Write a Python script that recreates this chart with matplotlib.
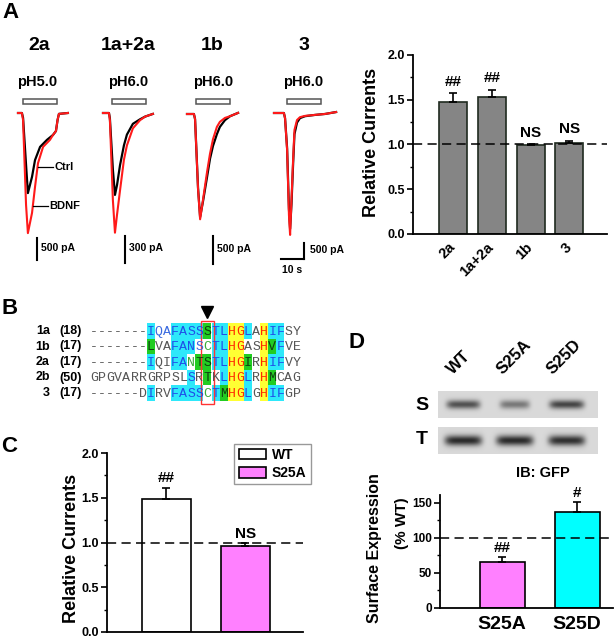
import numpy as np
import matplotlib
matplotlib.use('Agg')
import matplotlib.pyplot as plt
from matplotlib.patches import Rectangle
from matplotlib.ticker import MultipleLocator
import matplotlib.transforms as mtransforms

plt.rcParams['font.family'] = ['Liberation Sans', 'DejaVu Sans']
plt.rcParams['font.weight'] = 'bold'

# ---------------- data ----------------
# panel A traces: time (s), current (nA)
t_2a_ctrl = [0, 1.7, 2.2, 3.5, 4.3, 6.1, 7.4, 9.6, 12.6, 15.2, 16.5, 17.2, 17.8, 21.7]
i_2a_ctrl = [0, 0, -0.11, -1.18, -1.82, -1.45, -1.07, -0.77, -0.61, -0.50, -0.41, -0.16, -0.02, 0]
t_2a_bdnf = [0, 1.7, 2.2, 3.5, 4.3, 6.1, 7.4, 8.7, 10.9, 13.9, 15.2, 16.5, 17.2, 17.8, 21.7]
i_2a_bdnf = [0, 0, -0.16, -2.09, -2.73, -2.27, -1.68, -1.14, -0.77, -0.61, -0.50, -0.41, -0.16, -0.02, 0]

t_12a = [0, 2.6, 3.0, 4.3, 5.2, 6.1, 7.4, 9.1, 10.4, 13.0, 16.1, 18.3, 21.7]
i_12a_ctrl = [0, 0, -0.06, -0.63, -0.91, -0.80, -0.58, -0.36, -0.24, -0.12, -0.07, -0.04, -0.01]
i_12a_bdnf = [0, 0, -0.08, -0.97, -1.33, -1.13, -0.86, -0.52, -0.36, -0.17, -0.08, -0.04, -0.01]

t_1b = [0, 3.0, 3.5, 4.8, 5.7, 7.0, 8.7, 10.0, 11.3, 13.0, 14.3, 16.5, 18.7, 22.2]
i_1b_ctrl = [0, 0, -0.09, -1.32, -1.84, -1.55, -1.13, -0.80, -0.57, -0.36, -0.23, -0.11, -0.04, 0.02]
i_1b_bdnf = [0, 0, -0.09, -1.34, -1.88, -1.52, -1.04, -0.71, -0.45, -0.23, -0.14, -0.07, -0.04, 0.02]

t_3 = [0, 4.3, 4.8, 5.7, 6.5, 7.0, 7.6, 8.3, 8.9, 10.0, 11.3, 13.5, 17.8, 22.2, 27.0]
i_3_ctrl = [0, 0, -0.16, -1.10, -3.00, -3.62, -2.85, -1.60, -0.66, -0.30, -0.16, -0.10, -0.06, -0.03, 0.03]
i_3_bdnf = [0, 0, -0.16, -1.16, -3.19, -3.81, -2.72, -1.47, -0.53, -0.22, -0.13, -0.09, -0.06, -0.03, 0.03]

trace_names = ['2a', '1a+2a', '1b', '3']
trace_ph = ['pH5.0', 'pH6.0', 'pH6.0', 'pH6.0']
stim_on = [2.2, 3.9, 3.9, 5.7]
stim_dur = 14.8
scale_nA = [0.5, 0.3, 0.5, 0.5]
scale_lbl = ['500 pA', '300 pA', '500 pA', '500 pA']

# panel A bar chart
rel_groups = ['2a', '1a+2a', '1b', '3']
rel_vals = [1.48, 1.53, 0.99, 1.02]
rel_err = [0.09, 0.08, 0.01, 0.02]
rel_sig = ['##', '##', 'NS', 'NS']

# panel B alignment
aln_names = ['1a', '1b', '2a', '2b', '3']
aln_nums = ['(18)', '(17)', '(17)', '(50)', '(17)']
aln_seqs = ['-------IQAFASSSTLHGLAHIFSY',
            '-------LVAFANSCTLHGASHVFVE',
            '-------IQIFANTSTLHGIRHIFVY',
            'GPGVARRGRPSLSRTKLHGLRHMCAG',
            '------DIRVFASSCTMHGLGHIFGP']
aln_codes = ['nnnnnnnCbbCCCCGCCYYCnYCCnn',
             'nnnnnnnGnnCCCbgCCYYnnYGCnn',
             'nnnnnnnCnnCCgGGCCYYGnYCCnn',
             'nnnnnnnnnnnnCnGnCYYCnYGnnn',
             'nnnnnnnCnnCCCCgCGYYCnYCCnn']
site_col = 14

# panel C
c_groups = ['WT', 'S25A']
c_vals = [1.49, 0.96]
c_err = [0.12, 0.03]
c_sig = ['##', 'NS']

# panel D
d_lanes = ['WT', 'S25A', 'S25D']
band_surface = [0.78, 0.55, 0.85]
band_total = [1.0, 1.0, 0.97]
d_groups = ['S25A', 'S25D']
d_vals = [66, 137]
d_err = [7, 14]
d_sig = ['##', '#']

# ---------------- figure ----------------
W, H = 615.0, 639.0
fig = plt.figure(figsize=(W / 100, H / 100), dpi=100)


def box(x0, y0, x1, y1):
    return [x0 / W, 1 - y1 / H, (x1 - x0) / W, (y1 - y0) / H]


def put(x, y, s, **kw):
    kw.setdefault('ha', 'center')
    kw.setdefault('va', 'center')
    fig.text(x / W, 1 - y / H, s, **kw)


def style_bars(ax):
    for side in ['top', 'right']:
        ax.spines[side].set_visible(False)
    for side in ['left', 'bottom']:
        ax.spines[side].set_linewidth(1.3)
    ax.tick_params(axis='y', which='major', direction='out', length=4, width=1.2, labelsize=9, pad=2)
    ax.tick_params(axis='y', which='minor', direction='out', length=2.5, width=1)
    ax.tick_params(axis='x', length=0)


# panel letters
put(10, 12, 'A', fontsize=16)
put(10, 309, 'B', fontsize=16)
put(9, 447, 'C', fontsize=16)
put(356, 343, 'D', fontsize=16)

# ---- A: traces ----
traces = [(t_2a_ctrl, i_2a_ctrl, t_2a_bdnf, i_2a_bdnf),
          (t_12a, i_12a_ctrl, t_12a, i_12a_bdnf),
          (t_1b, i_1b_ctrl, t_1b, i_1b_bdnf),
          (t_3, i_3_ctrl, t_3, i_3_bdnf)]
x0_px = [18, 103, 187, 274]
base_px = [113, 113, 114, 113]
px_per_nA = [44, 90, 56, 32]
px_per_s = 2.3
title_x = [39, 128, 212, 304]
ph_x = [37, 128, 213, 303]
bar_t = [8.3, 9.6, 11.3, 13.0]
bar_top_px = [238, 236, 236, 243]

for k in range(4):
    top, bot = 92, 292
    left = x0_px[k] - 2 * px_per_s
    ax = fig.add_axes(box(left, top, left + 40 * px_per_s, bot))
    s = px_per_nA[k]
    ax.set_xlim(-2, 38)
    ax.set_ylim(-(bot - base_px[k]) / s, (base_px[k] - top) / s)
    ax.axis('off')
    tc, ic, tb, ib = traces[k]
    ax.plot(tc, ic, color='black', lw=1.6, solid_joinstyle='round')
    ax.plot(tb, ib, color='#FF1A1A', lw=1.5, solid_joinstyle='round')
    # stimulus bar
    tr = mtransforms.blended_transform_factory(ax.transData, ax.transAxes)
    ax.add_patch(Rectangle((stim_on[k], (bot - 104) / (bot - top)), stim_dur, 5 / (bot - top),
                           transform=tr, fill=False, edgecolor='#555555', lw=1.1))
    # scale bar
    ytop = -(bar_top_px[k] - base_px[k]) / s
    ybot = ytop - scale_nA[k]
    ax.plot([bar_t[k], bar_t[k]], [ytop, ybot], color='black', lw=1.5)
    if k == 3:
        ax.plot([bar_t[k] - 10, bar_t[k]], [ybot, ybot], color='black', lw=1.5)
        ax.text(bar_t[k] - 5, ybot - 6 / s, '10 s', ha='center', va='top', fontsize=7.5)
        ax.text(bar_t[k] + 2.6, (ytop + ybot) / 2 + 1 / s, scale_lbl[k], ha='left', va='center', fontsize=7.5)
    else:
        ax.text(bar_t[k] + 1.8, (ytop + ybot) / 2 + 1 / s, scale_lbl[k], ha='left', va='center', fontsize=7.5)
    if k == 0:
        ax.plot([8.7, 15.2], [-1.23, -1.23], color='black', lw=0.9)
        ax.text(15.9, -1.23, 'Ctrl', ha='left', va='center', fontsize=8)
        ax.plot([6.5, 13.0], [-2.11, -2.11], color='black', lw=0.9)
        ax.text(13.7, -2.11, 'BDNF', ha='left', va='center', fontsize=8)
    put(title_x[k], 45, trace_names[k], fontsize=14)
    put(ph_x[k], 82, trace_ph[k], fontsize=10.5)

# ---- A: bar chart ----
axA = fig.add_axes(box(413, 55, 607, 234))
xa = np.arange(len(rel_groups))
axA.bar(xa, rel_vals, width=0.72, color='#858585', edgecolor='#1F2A1F', linewidth=1.2, zorder=2)
axA.errorbar(xa, rel_vals, yerr=[np.zeros(4), rel_err], fmt='none', ecolor='black',
             elinewidth=1.2, capsize=3, capthick=1.2, zorder=3)
axA.axhline(1.0, color='black', ls=(0, (6, 3.5)), lw=1.1, zorder=4)
for xi, v, e, sgn in zip(xa, rel_vals, rel_err, rel_sig):
    axA.text(xi, v + e + 0.05, sgn, ha='center', va='bottom', fontsize=11)
axA.set_xlim(-1.03, 3.97)
axA.set_ylim(0, 2.0)
axA.set_yticks([0, 0.5, 1.0, 1.5, 2.0])
axA.set_yticklabels(['0.0', '0.5', '1.0', '1.5', '2.0'])
axA.yaxis.set_minor_locator(MultipleLocator(0.25))
axA.set_xticks(xa)
axA.set_xticklabels(rel_groups, rotation=45, ha='right', va='center', rotation_mode='anchor', fontsize=10.5)
style_bars(axA)
axA.tick_params(axis='x', pad=8)
put(372, 142, 'Relative Currents', rotation=90, fontsize=13)

# ---- B: alignment ----
bg = {'C': '#2EE8FA', 'G': '#22CC22', 'Y': '#FFFF33'}
fg = {'C': '#1F4FE8', 'G': '#0F3F0F', 'Y': '#FF2A00', 'n': '#555555', 'b': '#3A6AE0', 'g': '#3AAA3A'}
axB = fig.add_axes(box(90, 323.25, 300.6, 400.75))
axB.set_xlim(0, 26)
axB.set_ylim(4.5, -0.5)
axB.axis('off')
for r, (seq, code) in enumerate(zip(aln_seqs, aln_codes)):
    for c, (ch, kc) in enumerate(zip(seq, code)):
        if kc in bg:
            axB.add_patch(Rectangle((c, r - 0.5), 1, 1, color=bg[kc], lw=0))
        axB.text(c + 0.5, r + 0.05, ch, ha='center', va='center', family='Liberation Mono',
                 fontsize=9.5, fontweight='normal', color=fg[kc])
    axB.text(-4.94, r, aln_names[r], ha='right', va='center', fontsize=9, clip_on=False)
    axB.text(-0.99, r, aln_nums[r], ha='right', va='center', fontsize=9, clip_on=False)
axB.add_patch(Rectangle((site_col - 0.33, -0.66), 1.68, 5.37, fill=False, edgecolor='#FF3333', lw=1, clip_on=False))
axB.plot(site_col + 0.5, -1.25, marker='v', ms=8, color='black', clip_on=False)

# ---- C ----
axC = fig.add_axes(box(107, 453, 303, 632))
xc = np.arange(len(c_groups))
bars = axC.bar(xc, c_vals, width=0.62, color=['white', '#FF80FF'], edgecolor='black', linewidth=1.2, zorder=2)
axC.errorbar(xc, c_vals, yerr=[np.zeros(2), c_err], fmt='none', ecolor='black',
             elinewidth=1.2, capsize=3, capthick=1.2, zorder=3)
axC.axhline(1.0, color='black', ls=(0, (6, 3.5)), lw=1.1, zorder=4)
for xi, v, e, sgn in zip(xc, c_vals, c_err, c_sig):
    axC.text(xi, v + e + 0.03, sgn, ha='center', va='bottom', fontsize=11)
axC.set_xlim(-0.75, 1.73)
axC.set_ylim(0, 2.0)
axC.set_yticks([0, 0.5, 1.0, 1.5, 2.0])
axC.set_yticklabels(['0.0', '0.5', '1.0', '1.5', '2.0'])
axC.yaxis.set_minor_locator(MultipleLocator(0.25))
axC.set_xticks([])
style_bars(axC)
axC.legend(bars, c_groups, loc='upper left', bbox_to_anchor=(0.615, 1.09), fontsize=10,
           frameon=True, fancybox=False, edgecolor='#999999', framealpha=1,
           handlelength=2.0, handleheight=0.8, borderpad=0.3, labelspacing=0.3, handletextpad=0.4)
put(72, 548, 'Relative Currents', rotation=90, fontsize=13)

# ---- D: blot ----
lane_c = [0.47, 1.44, 2.42]


def blot_strip(ax, strength, thick):
    xx, yy = np.meshgrid(np.linspace(0, 3, 160), np.linspace(0, 1, 27))
    img = np.full(xx.shape, 0.85)
    for c, st in zip(lane_c, strength):
        wid = 0.2 + 0.15 * st
        img -= 0.68 * st * np.exp(-((xx - c) / wid) ** 6) * np.exp(-((yy - 0.5) / thick) ** 2)
    ax.imshow(img, cmap='gray', vmin=0, vmax=1, aspect='auto', extent=(0, 3, 1, 0), interpolation='bilinear')
    ax.axis('off')


axS = fig.add_axes(box(438, 391, 598, 418))
blot_strip(axS, band_surface, 0.17)
axT = fig.add_axes(box(438, 427, 598, 454))
blot_strip(axT, band_total, 0.2)
put(422, 405, 'S', fontsize=14)
put(422, 440, 'T', fontsize=14)
for xl, lab in zip([455, 505, 555], d_lanes):
    put(xl, 377, lab, rotation=45, ha='left', va='bottom', rotation_mode='anchor', fontsize=12)
put(543, 473, 'IB: GFP', fontsize=10.5)

# ---- D: bars ----
axD = fig.add_axes(box(440, 495, 613, 608))
xd = np.arange(len(d_groups))
axD.bar(xd, d_vals, width=0.6, color=['#FF80FF', '#00FFFF'], edgecolor='black', linewidth=1.2, zorder=2)
axD.errorbar(xd, d_vals, yerr=[np.zeros(2), d_err], fmt='none', ecolor='black',
             elinewidth=1.2, capsize=3, capthick=1.2, zorder=3)
axD.axhline(100, color='black', ls=(0, (6, 3.5)), lw=1.1, zorder=4)
for xi, v, e, sgn in zip(xd, d_vals, d_err, d_sig):
    axD.text(xi, v + e + 3, sgn, ha='center', va='bottom', fontsize=11)
axD.set_xlim(-0.83, 1.48)
axD.set_ylim(0, 161)
axD.set_yticks([0, 50, 100, 150])
axD.yaxis.set_minor_locator(MultipleLocator(25))
axD.set_xticks(xd)
axD.set_xticklabels(d_groups, fontsize=14)
style_bars(axD)
axD.tick_params(axis='y', labelsize=8.5)
axD.tick_params(axis='x', pad=6)
put(374, 548, 'Surface Expression', rotation=90, fontsize=11.5)
put(402, 523, '(% WT)', rotation=90, fontsize=11)

fig.savefig('out.png', dpi=100)
